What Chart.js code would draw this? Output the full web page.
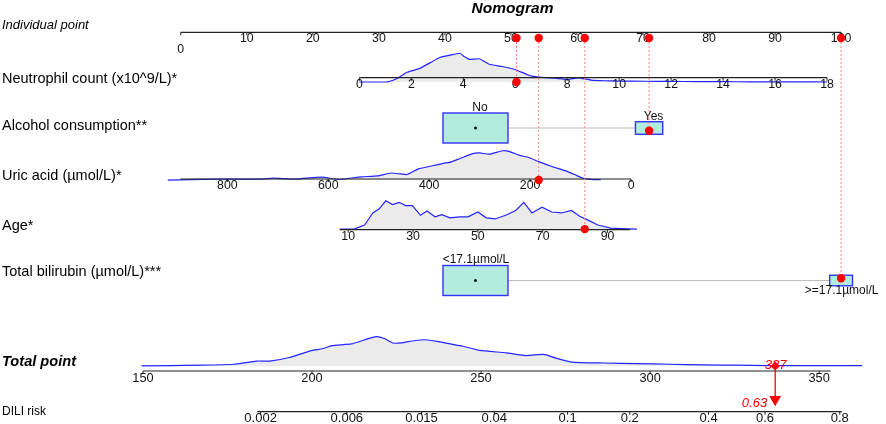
<!DOCTYPE html>
<html><head><meta charset="utf-8">
<script src="https://cdn.jsdelivr.net/npm/chart.js@4.4.1/dist/chart.umd.min.js"></script>
<style>html,body{margin:0;padding:0;background:#fff}#wrap{width:886px;height:424px;position:relative}</style>
</head><body><div id="wrap"><canvas id="c"></canvas></div>
<script>
// ================= DATA =================
const chartTitle = 'Nomogram';
const rowLabels = ['Individual point','Neutrophil count (x10^9/L)*','Alcohol consumption**','Uric acid (\u00b5mol/L)*','Age*','Total bilirubin (\u00b5mol/L)***','Total point','DILI risk'];

const pointTicks = [0,10,20,30,40,50,60,70,80,90,100];

// Neutrophil count
const neutTicks = [0,2,4,6,8,10,12,14,16,18];
const neutRange = [0,18];
const neutPointMap = [0,27.04,18,97.87];          // value -> points (two anchors)
const neutDensX = [0,0.5,1.0,1.1,1.3,1.5,1.84,2.03,2.35,2.73,3.1,3.49,3.87,4.05,4.24,4.62,5.0,5.5,6.01,6.52,6.9,7.53,8.03,8.41,8.92,9.42,10,11,12,13,14,15,16,17,18];
const neutDensH = [0,0,0,0.2,1.8,4.5,10,11.7,14.3,20,25.3,27.7,29.7,26,23.3,24,18.3,16,12.7,7,5,4,2.7,4.3,2,1.3,1,0.8,0.7,0.4,0.3,0.2,0.2,0.1,0];

// Alcohol consumption
const alcoholLevels = ['No','Yes'];
const alcoholPoints = [44.63,70.92];
const alcoholShare = [0.85,0.15];

// Uric acid
const uricTicks = [800,600,400,200,0];
const uricRange = [0,893];
const uricPointMap = [0,68.19,800,7.05];
const uricDensX = [60,79,96,112,131,157,183,203,222,242,255,281,300,314,340,359,372,391,421,444,456,476,502,535,580,613,665,710,730,827,918];
const uricDensH = [0.3,0.7,2,5.7,9.7,14,19,23.3,25.7,29.7,30.3,26.7,28,27.3,22,18.3,17.3,15,11.5,5.7,6.3,7.3,4.3,3.3,0.7,3,1,2,1,1,0];

// Age
const ageTicks = [10,30,50,70,90];
const ageRange = [7.4,97];
const agePointMap = [10,25.35,90,64.62];
const ageDensX = [7.4,12,15.05,17.6,19.6,21.6,23.7,25.7,27.7,29.8,32.3,34.3,36.8,38.9,41.4,44.4,47.0,50.0,52.6,55.3,58.6,61.7,64.2,66.7,69.8,72.8,75.8,78.9,81.4,84.0,87.0,91.0,96.1,99.1];
const ageDensH = [0,0.3,4.3,16.7,21,29.3,25.3,27.7,24.3,24.3,14.3,18.7,12.7,15,11.7,12.7,12.7,17.7,11.7,10.5,14.3,19.3,27.7,16.7,22.7,17.7,16.7,19.3,13.3,9.3,4.3,1,0.3,0];

// Total bilirubin
const biliLevels = ['<17.1\u00b5mol/L','>=17.1\u00b5mol/L'];
const biliPoints = [44.63,100];
const biliShare = [0.89,0.11];

// Total points
const totalTicks = [150,200,250,300,350];
const totalRange = [150,353.4];
const totalDensX = [149.6,167.1,176.8,183.6,187.5,193.3,200.1,203,205.9,211.7,215.6,219,221.4,223.9,226.3,230.2,233.6,237,240.9,244.7,249.6,257.4,263.2,267.1,269,271.9,276.8,286.5,296.2,305.9,315.6,325.3,335,344.7,362.7];
const totalDensH = [0,0.7,1.7,5,5,8.7,16,17.7,21,22.7,27,30.3,28.3,23.7,23.7,26,27,25.3,22.7,20.3,16,13.5,10.7,11.7,11.7,8.3,4,3,2.3,1.7,1,0.7,0.3,0.3,0.3];

// DILI risk axis: tick labels and their total-point positions
const riskTickLabels = ['0.002','0.006','0.015','0.04','0.1','0.2','0.4','0.6','0.8'];
const riskTickTotal = [184.8,210.3,232.4,253.9,275.6,294.0,317.3,334.0,356.1];
const riskRange = [183.8,356.7];

// Individual patient
const patientNeut = 6.05;
const patientAlcohol = 'Yes';
const patientUric = 183;
const patientAge = 83;
const patientBili = '>=17.1\u00b5mol/L';
const patientTotal = 337;
const patientRisk = '0.63';

// ================= LAYOUT (px) =================
const LAY = {
  topY: 32.3,
  row: {neut:77.7, alcohol:128, uric:179, age:229.7, bili:280.5, total:371, risk:411.7},
  labelY: [25, 78.5, 125.5, 175.5, 226, 271.5, 362, 411.5],
  labelX: 2,
  boxW: 9.84,   // points
  boxH: 30,     // px
  dotR: 4.2
};
const FONT = '"Liberation Sans", Arial, Helvetica, sans-serif';
const RED = '#ff0000';

function lin(map, v){ return map[1] + (v-map[0])*(map[3]-map[1])/(map[2]-map[0]); }
const neutPts = v => lin(neutPointMap, v);
const uricPts = v => lin(uricPointMap, v);
const agePts = v => lin(agePointMap, v);

function densityDataset(xs, hs, conv, base, axis){
  return {
    type:'line', order:3, xAxisID: axis, yAxisID:'y',
    data: xs.map((v,i)=>({x:conv(v), y: base - hs[i]})),
    borderColor:'#2424ff', borderWidth:1.2, pointRadius:0,
    backgroundColor:'#ebebeb', fill:{value: base}, tension:0.15
  };
}
const ident = v => v;

const pNeut = neutPts(patientNeut);
const pUric = uricPts(patientUric);
const pAge = agePts(patientAge);
const pAlc = alcoholPoints[alcoholLevels.indexOf(patientAlcohol)];
const pBili = biliPoints[biliLevels.indexOf(patientBili)];

const patientRows = [
  [pNeut, LAY.row.neut],
  [pUric, LAY.row.uric],
  [pAge, LAY.row.age],
  [pAlc, LAY.row.alcohol],
  [pBili, LAY.row.bili]
];

const datasets = [
  densityDataset(neutDensX, neutDensH, neutPts, LAY.row.neut, 'x'),
  densityDataset(uricDensX, uricDensH, uricPts, LAY.row.uric, 'x'),
  Object.assign(densityDataset(ageDensX, ageDensH, agePts, LAY.row.age, 'x'), {tension:0}),
  densityDataset(totalDensX, totalDensH, ident, LAY.row.total, 'xt'),
];
patientRows.forEach(r => datasets.push({
  type:'line', order:2, xAxisID:'x', yAxisID:'y', over:true,
  data:[{x:r[0], y:LAY.topY},{x:r[0], y:r[1]}],
  borderColor:'#ff7f7f', borderWidth:1, borderDash:[2,2], pointRadius:0, fill:false
}));
datasets.push({
  type:'line', order:2, xAxisID:'xt', yAxisID:'y', over:true,
  data:[{x:patientTotal, y:LAY.row.total},{x:patientTotal, y:LAY.row.risk-8}],
  borderColor:RED, borderWidth:1.3, pointRadius:0, fill:false
});
datasets.push({
  type:'line', order:1, xAxisID:'x', yAxisID:'y', over:true, showLine:false,
  data: patientRows.map(r=>({x:r[0], y:LAY.topY})).concat(patientRows.map(r=>({x:r[0], y:r[1]}))),
  pointRadius:LAY.dotR, pointBackgroundColor:RED, pointBorderColor:RED, pointBorderWidth:0
});
datasets.push({
  type:'line', order:1, xAxisID:'xt', yAxisID:'y', over:true, showLine:false,
  data:[{x:patientTotal, y:LAY.row.total}],
  pointStyle:'rectRot', pointRadius:4.6, pointBackgroundColor:RED, pointBorderColor:RED, pointBorderWidth:0
});
datasets.push({
  type:'line', order:1, xAxisID:'xt', yAxisID:'y', over:true, showLine:false,
  data:[{x:patientTotal, y:LAY.row.risk-6}],
  pointStyle:'triangle', rotation:180, pointRadius:6.8, pointBackgroundColor:RED, pointBorderColor:RED, pointBorderWidth:0
});

// ================= PLUGIN (axes, boxes, text) =================
function drawAxis(ctx, scale, y, range, ticks, labels, conv, font, offs){
  const xa = scale.getPixelForValue(conv(range[0]));
  const xb = scale.getPixelForValue(conv(range[1]));
  ctx.save();
  ctx.strokeStyle = '#222'; ctx.lineWidth = 1.2;
  ctx.beginPath(); ctx.moveTo(Math.min(xa,xb), y); ctx.lineTo(Math.max(xa,xb), y); ctx.stroke();
  ctx.lineWidth = 1;
  ctx.font = font; ctx.fillStyle = '#111'; ctx.textAlign = 'center'; ctx.textBaseline = 'middle';
  ticks.forEach((t,i)=>{
    const px = scale.getPixelForValue(conv(t));
    ctx.beginPath(); ctx.moveTo(px, y); ctx.lineTo(px, y+3); ctx.stroke();
    const o = Array.isArray(offs) ? offs[i] : offs;
    ctx.fillText(labels ? labels[i] : String(t), px, y + o);
  });
  ctx.restore();
}

function drawBoxes(ctx, sx, sy, points, share, y, levels, labelSide, labelShift){
  const maxS = Math.max(...share);
  const rects = points.map((p,i)=>{
    const s = Math.sqrt(share[i]/maxS);
    const x0 = sx.getPixelForValue(p - LAY.boxW*s/2);
    const x1 = sx.getPixelForValue(p + LAY.boxW*s/2);
    const h = LAY.boxH*s;
    return {x0, x1, y0: y - h/2, y1: y + h/2, cx: sx.getPixelForValue(p)};
  });
  ctx.save();
  ctx.strokeStyle = '#bdbdbd'; ctx.lineWidth = 1;
  ctx.beginPath(); ctx.moveTo(rects[0].x1, y); ctx.lineTo(rects[1].x0, y); ctx.stroke();
  rects.forEach((r,i)=>{
    ctx.fillStyle = '#b3ebdf';
    ctx.fillRect(r.x0, r.y0, r.x1-r.x0, r.y1-r.y0);
    ctx.strokeStyle = '#3333ff'; ctx.lineWidth = 1.4;
    ctx.strokeRect(r.x0, r.y0, r.x1-r.x0, r.y1-r.y0);
    ctx.font = '12px ' + FONT; ctx.fillStyle = '#111'; ctx.textAlign='center'; ctx.textBaseline='middle';
    const ly = labelSide[i] === 'above' ? r.y0 - 5.5 : r.y1 + 4.5;
    ctx.fillText(levels[i], r.cx + labelShift, ly);
  });
  ctx.fillStyle = '#111';
  ctx.beginPath(); ctx.arc(rects[0].cx, y, 1.5, 0, Math.PI*2); ctx.fill();
  ctx.restore();
}

const nomoPlugin = {
  id:'nomo',
  beforeDatasetsDraw(chart){ chart.$nomoDone = false; },
  beforeDatasetDraw(chart, args){
    const ds = chart.data.datasets[args.index];
    if (chart.$nomoDone || !ds.over) return;
    chart.$nomoDone = true;
    const ctx = chart.ctx, sx = chart.scales.x, st = chart.scales.xt, sy = chart.scales.y;
    ctx.save();
    // title
    ctx.font = 'italic bold 15.5px ' + FONT; ctx.fillStyle = '#000';
    ctx.textAlign = 'center'; ctx.textBaseline = 'alphabetic';
    ctx.fillText(chartTitle, 512.5, 12.5);
    // row labels
    ctx.textAlign = 'left'; ctx.textBaseline = 'middle';
    rowLabels.forEach((t,i)=>{
      if (i===0) ctx.font = 'italic 13px ' + FONT;
      else if (i===6) ctx.font = 'italic bold 14.6px ' + FONT;
      else if (i===7) ctx.font = '12px ' + FONT;
      else ctx.font = '14.5px ' + FONT;
      ctx.fillText(t, LAY.labelX, LAY.labelY[i]);
    });
    ctx.restore();
    // axes
    drawAxis(ctx, sx, LAY.topY, [0,100], pointTicks, null, ident, '12.3px '+FONT, pointTicks.map((t,i)=> i===0 ? 17.7 : 6.8));
    drawAxis(ctx, sx, LAY.row.neut, neutRange, neutTicks, null, neutPts, '12.3px '+FONT, 6.5);
    drawAxis(ctx, sx, LAY.row.uric, uricRange, uricTicks, null, uricPts, '12.3px '+FONT, 6.5);
    drawAxis(ctx, sx, LAY.row.age, ageRange, ageTicks, null, agePts, '12.3px '+FONT, 6.5);
    drawAxis(ctx, st, LAY.row.total, totalRange, totalTicks, null, ident, '12.8px '+FONT, 7);
    drawAxis(ctx, st, LAY.row.risk, riskRange, riskTickTotal, riskTickLabels, ident, '13px '+FONT, 6.5);
    // boxes
    drawBoxes(ctx, sx, sy, alcoholPoints, alcoholShare, LAY.row.alcohol, alcoholLevels, ['above','above'], 4.5);
    drawBoxes(ctx, sx, sy, biliPoints, biliShare, LAY.row.bili, biliLevels, ['above','below'], 0.5);
  },
  afterDatasetsDraw(chart){
    const ctx = chart.ctx, st = chart.scales.xt;
    const px = st.getPixelForValue(patientTotal);
    ctx.save();
    ctx.fillStyle = RED; ctx.font = 'italic 13px ' + FONT; ctx.textBaseline = 'middle';
    ctx.textAlign = 'center';
    ctx.fillText(String(patientTotal), px + 0.5, LAY.row.total - 6);
    ctx.textAlign = 'right';
    ctx.fillText(patientRisk, px - 8, LAY.row.risk - 8.2);
    ctx.restore();
  }
};

new Chart(document.getElementById('c'), {
  type:'line',
  data:{datasets},
  options:{
    responsive:true, maintainAspectRatio:false, animation:false, events:[],
    layout:{padding:0},
    plugins:{legend:{display:false}, tooltip:{enabled:false}, title:{display:false}},
    scales:{
      x:{type:'linear', min:-26.35, max:105.77, display:false},
      xt:{type:'linear', axis:'x', min:109.72, max:367.77, display:false},
      y:{type:'linear', min:0, max:424, reverse:true, display:false}
    }
  },
  plugins:[nomoPlugin]
});
</script>
</body></html>
